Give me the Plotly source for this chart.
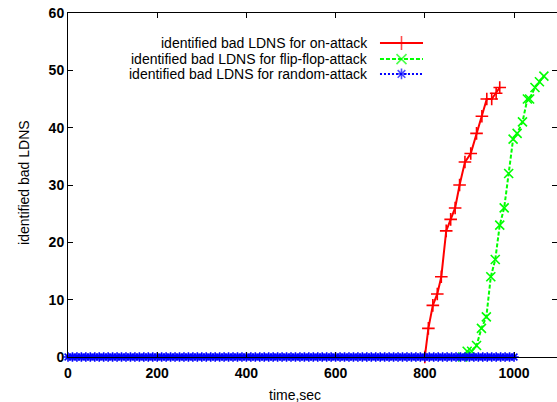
import plotly.graph_objects as go

# ---- data ----
on_x = [800, 808, 818, 828, 837, 848, 858, 868, 878, 890, 903, 916, 928, 939, 950, 960, 968]
on_y = [0, 5, 9, 11, 14, 22, 24, 26, 30, 34, 35.5, 39, 42, 45, 45, 46, 47]

ff_x = [885, 895, 905, 916, 927, 938, 948, 958, 968, 978, 988, 998, 1007, 1019, 1030, 1035, 1047, 1057, 1067]
ff_y = [0, 1, 1, 2, 5, 7, 14, 17, 23, 26, 32, 38, 39, 41, 45, 45, 47, 48, 49]

rnd_x = list(range(0, 1001, 10))
rnd_y = [0] * len(rnd_x)

series_names = [
    "identified bad LDNS for on-attack",
    "identified bad LDNS for flip-flop-attack",
    "identified bad LDNS for random-attack",
]
x_ticks = [0, 200, 400, 600, 800, 1000]
y_ticks = [0, 10, 20, 30, 40, 50, 60]

RED, GREEN, BLUE = "#ff0000", "#00ff00", "#0000ff"
styles = [
    dict(color=RED, dash="solid", symbol="cross-thin-open", size=9),
    dict(color=GREEN, dash="4px,2px", symbol="x-thin-open", size=9),
    dict(color=BLUE, dash="2px,2px", symbol="asterisk-open", size=8),
]
FONT = "Liberation Sans, Arial, Helvetica, sans-serif"

fig = go.Figure()
for (xs, ys), st, name in zip([(on_x, on_y), (ff_x, ff_y), (rnd_x, rnd_y)], styles, series_names):
    fig.add_trace(go.Scatter(
        x=xs, y=ys, mode="lines+markers", name=name, showlegend=False,
        cliponaxis=False,
        line=dict(color=st["color"], width=2, dash=st["dash"]),
        marker=dict(symbol=st["symbol"], size=st["size"], color=st["color"],
                    line=dict(color=st["color"], width=1.6)),
    ))

# right-hand mirrored ticks (dummy trace on y2)
fig.add_trace(go.Scatter(x=[None], y=[None], yaxis="y2", showlegend=False))

# manual legend (text on the left, sample on the right)
leg_rows = [0.913, 0.866, 0.823]
for st, name, ry in zip(styles, series_names, leg_rows):
    fig.add_trace(go.Scatter(
        x=[0.638, 0.682, 0.726], y=[ry, ry, ry], xaxis="x2", yaxis="y3",
        mode="lines+markers", showlegend=False, cliponaxis=False,
        line=dict(color=st["color"], width=2, dash=st["dash"]),
        marker=dict(symbol=st["symbol"], size=[0, st["size"] + 1, 0], color=st["color"],
                    line=dict(color=st["color"], width=1.6)),
    ))
    fig.add_annotation(x=0.618, y=ry, xref="paper", yref="paper", text=name,
                       showarrow=False, xanchor="right", yanchor="middle",
                       font=dict(family=FONT, size=14, color="black"))

fig.add_annotation(x=0.464, y=-0.11, xref="paper", yref="paper", text="time,sec",
                   showarrow=False, xanchor="center", yanchor="middle",
                   font=dict(family=FONT, size=14, color="black"))
fig.add_annotation(x=-0.09, y=0.509, xref="paper", yref="paper", text="identified bad LDNS",
                   showarrow=False, textangle=-90, xanchor="center", yanchor="middle",
                   font=dict(family=FONT, size=14, color="black"))

tickfont = dict(family=FONT, size=14, color="black", weight="bold")
fig.update_layout(
    width=557, height=402,
    margin=dict(l=68, r=0, t=13, b=45),
    paper_bgcolor="white", plot_bgcolor="white",
    showlegend=False,
    xaxis=dict(range=[0, 1096.4], tickvals=x_ticks, ticks="inside", ticklen=5,
               tickcolor="black", showline=True, linecolor="black", linewidth=1,
               mirror="ticks", showgrid=False, zeroline=False, tickfont=tickfont,
               ticklabelstandoff=3),
    yaxis=dict(range=[0, 60], tickvals=y_ticks, ticks="inside", ticklen=5,
               tickcolor="black", showline=True, linecolor="black", linewidth=1,
               mirror=False, showgrid=False, zeroline=False, tickfont=tickfont),
    yaxis2=dict(range=[0, 60], overlaying="y", side="right", tickvals=y_ticks,
                ticks="inside", ticklen=5, tickcolor="black", showline=False,
                showticklabels=False, showgrid=False, zeroline=False),
    xaxis2=dict(range=[0, 1], overlaying="x", visible=False),
    yaxis3=dict(range=[0, 1], overlaying="y", visible=False),
)

fig.write_html("out.html")
